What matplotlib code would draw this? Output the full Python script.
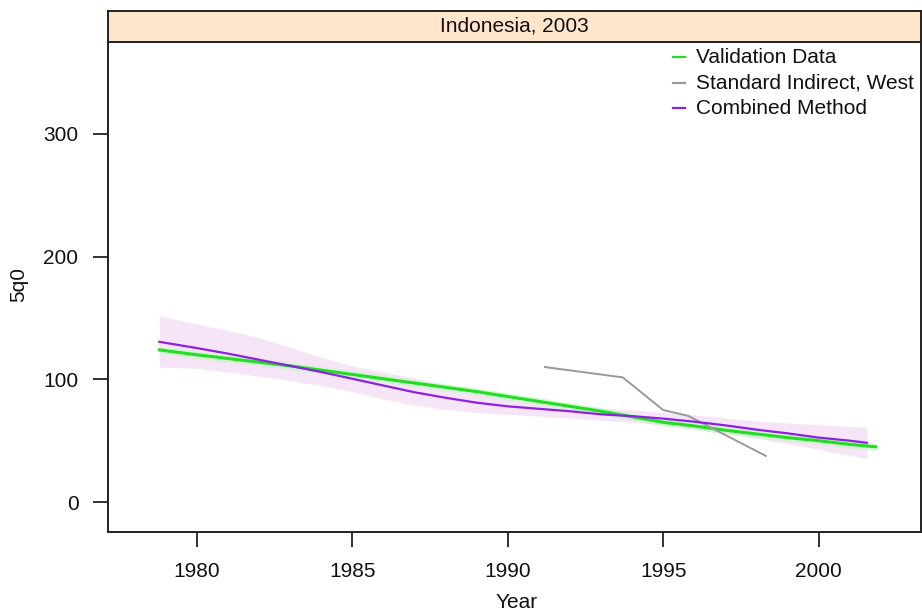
import matplotlib
matplotlib.use("Agg")
import matplotlib.pyplot as plt

plt.rcParams["font.family"] = ["Liberation Sans", "DejaVu Sans"]

# Validation Data (green line + faint band)
VALID_YEARS = [1978.8, 1980, 1981, 1982, 1983, 1984, 1985, 1986, 1987, 1988, 1989,
               1990, 1991, 1992, 1993, 1994, 1995, 1996, 1997, 1998, 1999, 2000,
               2001, 2001.84]
VALID_5Q0 = [124, 120, 117, 114, 111, 107.5, 104, 100.5, 97, 93.5, 90,
             86, 82, 78, 74, 69.5, 65, 62, 58.5, 55.5, 52.5, 50, 47, 45]
VALID_LO = [121, 117, 114, 111, 108, 104.5, 101, 97.5, 94, 90.5, 87,
            83, 79, 75, 71, 66.5, 62, 59, 55.5, 52.5, 49.5, 47, 44, 42]
VALID_HI = [127, 123, 120, 117, 114, 110.5, 107, 103.5, 100, 96.5, 93,
            89, 85, 81, 77, 72.5, 68, 65, 61.5, 58.5, 55.5, 53, 50, 48]

# Combined Method (purple line + uncertainty band)
COMB_YEARS = [1978.8, 1980, 1981, 1982, 1983, 1984, 1985, 1986, 1987, 1988, 1989,
              1990, 1991, 1992, 1993, 1994, 1995, 1996, 1997, 1998, 1999, 2000,
              2001, 2001.55]
COMB_5Q0 = [130.6, 125.5, 121, 116, 111, 106, 100.5, 95, 89.5, 85, 81,
            78, 76, 74, 71.5, 70, 68, 65.5, 62.5, 59, 56, 52.5, 50, 48.3]
COMB_LO = [110, 109, 106, 102.5, 99, 95, 90, 84, 79, 75.5, 73,
           71.5, 70, 68.5, 66.5, 65, 63, 60, 56.5, 52, 47.5, 43, 38, 35.5]
COMB_HI = [152, 145, 140, 134, 126, 118, 111, 106, 101, 94, 88,
           84, 81, 79, 76.5, 75, 73, 71, 68.5, 66, 64.5, 63, 61.5, 61]

# Standard Indirect, West (gray)
SI_YEARS = [1991.2, 1993.7, 1995.0, 1995.8, 1998.3]
SI_5Q0 = [110, 101.6, 75, 70.3, 37.6]

LABELS = ["Validation Data", "Standard Indirect, West", "Combined Method"]
COLORS = ["#22dd22", "#999999", "#9020e0"]

fig = plt.figure(figsize=(9.22, 6.11), dpi=100)
ax = fig.add_axes([108 / 922, 1 - 532 / 611, 812.7 / 922, 490 / 611])
strip = fig.add_axes([108 / 922, 1 - 42 / 611, 812.7 / 922, 31 / 611])

ax.fill_between(COMB_YEARS, COMB_LO, COMB_HI, color="#f5e5f7", lw=0, zorder=1)
ax.fill_between(VALID_YEARS, VALID_LO, VALID_HI, color="#c8f5c8", alpha=0.7, lw=0, zorder=2)
ax.plot(VALID_YEARS, VALID_5Q0, color=COLORS[0], lw=2.2, zorder=3)
ax.plot(SI_YEARS, SI_5Q0, color=COLORS[1], lw=1.4, zorder=4)
ax.plot(COMB_YEARS, COMB_5Q0, color=COLORS[2], lw=1.6, zorder=5)

ax.set_xlim(1977.15, 2003.28)
ax.set_ylim(-24.4, 374.9)
ax.set_xticks([1980, 1985, 1990, 1995, 2000])
ax.set_yticks([0, 100, 200, 300])
ax.tick_params(axis="both", labelsize=15, length=10.8, width=1.3, color="#222",
               labelcolor="#111")
ax.tick_params(axis="x", pad=10.5)
ax.tick_params(axis="y", pad=10.5)
for sp in ax.spines.values():
    sp.set_linewidth(1.4)
    sp.set_color("#222")

# legend drawn by hand, top right inside the panel
for i, (lab, col) in enumerate(zip(LABELS, COLORS)):
    yy = [0.9688, 0.9157, 0.8647][i]
    ax.plot([0.695, 0.710], [yy, yy], color=col, lw=1.6, transform=ax.transAxes,
            clip_on=False, zorder=6)
    ax.text(0.7235, yy, lab, transform=ax.transAxes, fontsize=15, va="center",
            ha="left", color="#111")

strip.set_facecolor("#ffe5cc")
strip.set_xticks([])
strip.set_yticks([])
for sp in strip.spines.values():
    sp.set_linewidth(1.4)
    sp.set_color("#222")
strip.text(0.5, 0.5, "Indonesia, 2003", fontsize=15, ha="center", va="center",
           color="#111", transform=strip.transAxes)

fig.text(19 / 922, 1 - 285 / 611, "5q0", rotation=90, fontsize=15,
         ha="center", va="center", color="#111")
fig.text(517 / 922, 1 - 602 / 611, "Year", fontsize=15, ha="center", va="center",
         color="#111")

fig.savefig("out.png", dpi=100)
